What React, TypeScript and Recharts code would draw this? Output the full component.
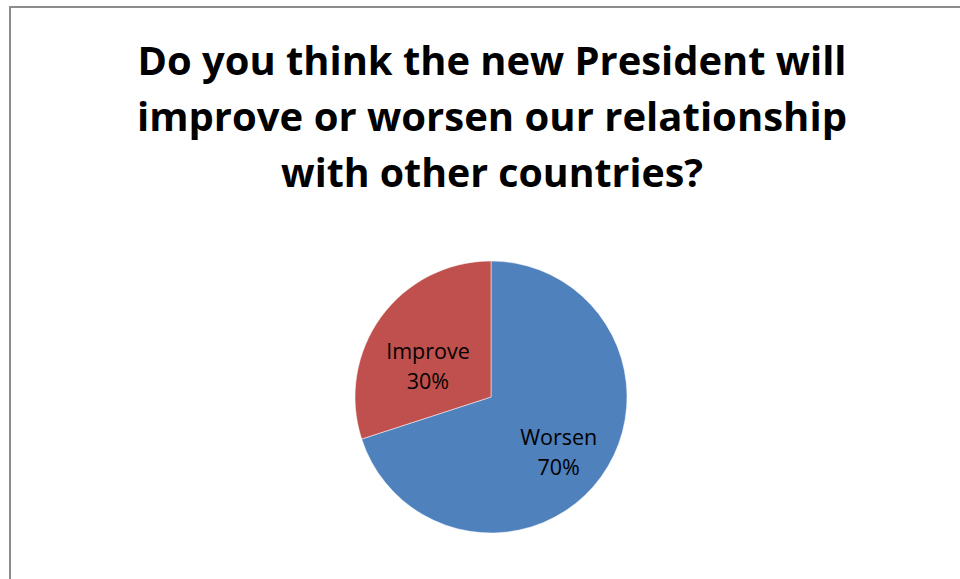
import React from "react";
import { PieChart, Pie, Cell } from "recharts";

const titleLines = [
  "Do you think the new President will",
  "improve or worsen our relationship",
  "with other countries?",
];
const categories = ["Worsen", "Improve"];
const values = [70, 30];
const colors = ["#4F81BD", "#C0504D"];

const data = categories.map((name, i) => ({ name, value: values[i] }));

// label placement (relative to pie radius / angle), layout only
const labelPlacement: Record<string, { rFrac: number; angle: number }> = {
  Worsen: { rFrac: 0.67, angle: -42 },
  Improve: { rFrac: 0.5, angle: 158 },
};

const RAD = Math.PI / 180;

const renderLabel = (props: any) => {
  const { cx, cy, outerRadius, name, percent } = props;
  const p = labelPlacement[name];
  const r = outerRadius * p.rFrac;
  const x = cx + r * Math.cos(p.angle * RAD);
  const y = cy - r * Math.sin(p.angle * RAD);
  return (
    <text
      x={x}
      y={y}
      textAnchor="middle"
      fill="#000"
      fontFamily="'Open Sans', sans-serif"
      fontSize={21.5}
    >
      <tspan x={x} dy={-13}>{name}</tspan>
      <tspan x={x} dy={30}>{`${Math.round(percent * 100)}%`}</tspan>
    </text>
  );
};

const titleLengths = [709, 710, 422];

export default function App() {
  return (
    <div style={{ position: "absolute", left: 0, top: 0, width: 960, height: 579, background: "#fff", overflow: "hidden" }}>
      <svg width={960} height={579} style={{ position: "absolute", left: 0, top: 0 }}>
        <line x1={10} y1={7} x2={960} y2={7} stroke="#8c8c8c" strokeWidth={2} />
        <line x1={10} y1={6} x2={10} y2={579} stroke="#8c8c8c" strokeWidth={2} />
        {titleLines.map((t, i) => (
          <text
            key={i}
            x={492}
            y={75 + i * 56}
            textAnchor="middle"
            fontFamily="'Open Sans', sans-serif"
            fontWeight="bold"
            fontSize={40}
            fill="#000"
            textLength={titleLengths[i]}
            lengthAdjust="spacingAndGlyphs"
          >
            {t}
          </text>
        ))}
      </svg>
      <div style={{ position: "absolute", left: 0, top: 0 }}>
        <PieChart width={960} height={579} margin={{ top: 0, right: 0, bottom: 0, left: 0 }}>
          <Pie
            data={data}
            dataKey="value"
            nameKey="name"
            cx={491}
            cy={397}
            outerRadius={136}
            startAngle={90}
            endAngle={-270}
            stroke="#ffffff"
            strokeWidth={0.5}
            label={renderLabel}
            labelLine={false}
            isAnimationActive={false}
          >
            {data.map((d, i) => (
              <Cell key={d.name} fill={colors[i]} />
            ))}
          </Pie>
        </PieChart>
      </div>
    </div>
  );
}
